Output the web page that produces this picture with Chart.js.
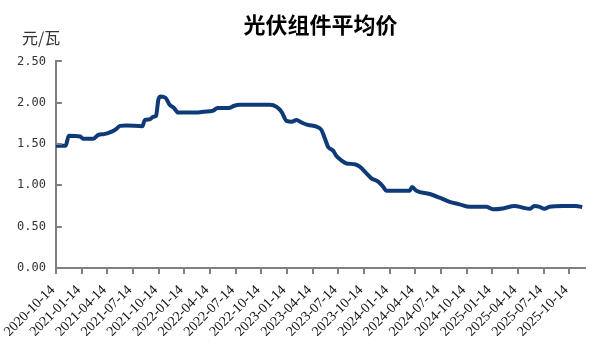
<!DOCTYPE html>
<html>
<head>
<meta charset="utf-8">
<script src="https://cdn.jsdelivr.net/npm/chart.js@4"></script>
<style>
html,body{margin:0;padding:0;background:#fff;}
#wrap{width:599px;height:357px;position:relative;}
</style>
</head>
<body>
<div id="wrap"><canvas id="c" width="599" height="357"></canvas></div>
<script>
// Weeks since 2020-10-14 (x positions of readings) and average module price (元/瓦)
const weeks = [0, 5, 6.5, 12.3, 13.8, 19, 21.5, 24.4, 28.3, 30.5, 32.5, 35.6, 43.8, 45, 47.7, 49.3, 50.7, 51.9, 53, 55.5, 57.6, 59.7, 61.9, 70.6, 75, 79.7, 81.8, 87.6, 90, 93.2, 108.4, 111.8, 114.3, 116.8, 119.4, 121.9, 124.4, 127.8, 132, 134.5, 136.2, 137.9, 140.4, 142.1, 144.7, 147.2, 151.4, 153.9, 157.3, 159.8, 163.2, 165.7, 167.4, 179.2, 180.4, 182.6, 189.3, 194.4, 199.4, 204.5, 209.5, 218, 221.4, 226.4, 232.3, 236.5, 239.9, 242.4, 245, 247.5, 250, 256.7, 263.4, 266.6];
const prices = [1.48, 1.48, 1.60, 1.59, 1.565, 1.565, 1.61, 1.62, 1.65, 1.68, 1.72, 1.725, 1.715, 1.79, 1.80, 1.83, 1.84, 2.035, 2.075, 2.06, 1.975, 1.94, 1.88, 1.88, 1.89, 1.905, 1.935, 1.935, 1.96, 1.975, 1.975, 1.95, 1.89, 1.78, 1.77, 1.79, 1.76, 1.73, 1.71, 1.67, 1.57, 1.465, 1.42, 1.355, 1.30, 1.265, 1.255, 1.225, 1.145, 1.085, 1.045, 0.985, 0.935, 0.935, 0.98, 0.935, 0.895, 0.85, 0.80, 0.77, 0.74, 0.74, 0.71, 0.72, 0.75, 0.73, 0.715, 0.75, 0.74, 0.715, 0.74, 0.75, 0.75, 0.737];
const tickLabels = ['2020-10-14','2021-01-14','2021-04-14','2021-07-14','2021-10-14','2022-01-14','2022-04-14','2022-07-14','2022-10-14','2023-01-14','2023-04-14','2023-07-14','2023-10-14','2024-01-14','2024-04-14','2024-07-14','2024-10-14','2025-01-14','2025-04-14','2025-07-14','2025-10-14'];
const weeksPerQuarter = 13;
const yTicks = [0, 0.5, 1.0, 1.5, 2.0, 2.5];
const titleText = '光伏组件平均价';
const unitText = '元/瓦';

const points = weeks.map((w, i) => ({x: w, y: prices[i]}));

const extras = {
  id: 'extras',
  afterDraw(chart) {
    const ctx = chart.ctx;
    const ys = chart.scales.y;
    const left = chart.chartArea.left;
    ctx.save();
    ctx.strokeStyle = '#808080';
    ctx.lineWidth = 2;
    ys.ticks.forEach((t, i) => {
      const py = Math.round(ys.getPixelForTick(i));
      ctx.beginPath();
      ctx.moveTo(left, py);
      ctx.lineTo(left + 6, py);
      ctx.stroke();
    });
    ctx.fillStyle = '#333';
    ctx.font = '16px "Noto Sans CJK SC"';
    ctx.textBaseline = 'middle';
    ctx.textAlign = 'left';
    ctx.fillText(unitText, 22, 38);
    ctx.restore();
  }
};

new Chart(document.getElementById('c'), {
  type: 'line',
  data: {
    datasets: [{
      data: points,
      borderColor: '#0f3a78',
      borderWidth: 4,
      pointRadius: 0,
      fill: false,
      cubicInterpolationMode: 'monotone'
    }]
  },
  options: {
    responsive: false,
    animation: false,
    layout: {padding: {left: 7, right: 14, top: 0, bottom: 9}},
    plugins: {
      legend: {display: false},
      tooltip: {enabled: false},
      title: {
        display: true,
        text: titleText,
        fullSize: false,
        color: '#000',
        font: {family: '"Noto Sans CJK SC"', size: 22, weight: 'bold', lineHeight: 1.2},
        padding: {top: 11, bottom: 24}
      }
    },
    scales: {
      x: {
        type: 'linear',
        min: 0,
        max: 268,
        afterBuildTicks: (scale) => {
          scale.ticks = tickLabels.map((_, i) => ({value: i * weeksPerQuarter}));
        },
        ticks: {
          autoSkip: false,
          minRotation: 45,
          maxRotation: 45,
          padding: 8,
          labelOffset: -3,
          color: '#111',
          font: {family: '"Liberation Serif"', size: 14},
          callback: (v) => tickLabels[Math.round(v / weeksPerQuarter)]
        },
        grid: {display: true, drawOnChartArea: false, tickLength: 6, color: '#808080', lineWidth: 2},
        border: {display: true, color: '#808080', width: 2}
      },
      y: {
        min: 0,
        max: 2.5,
        afterBuildTicks: (scale) => {
          scale.ticks = yTicks.map(v => ({value: v}));
        },
        ticks: {
          padding: 10,
          color: '#333',
          font: {family: '"DejaVu Sans Mono"', size: 12},
          callback: (v) => Number(v).toFixed(2)
        },
        grid: {display: false, drawOnChartArea: false, tickLength: 0},
        border: {display: true, color: '#808080', width: 2}
      }
    }
  },
  plugins: [extras]
});
</script>
</body>
</html>
